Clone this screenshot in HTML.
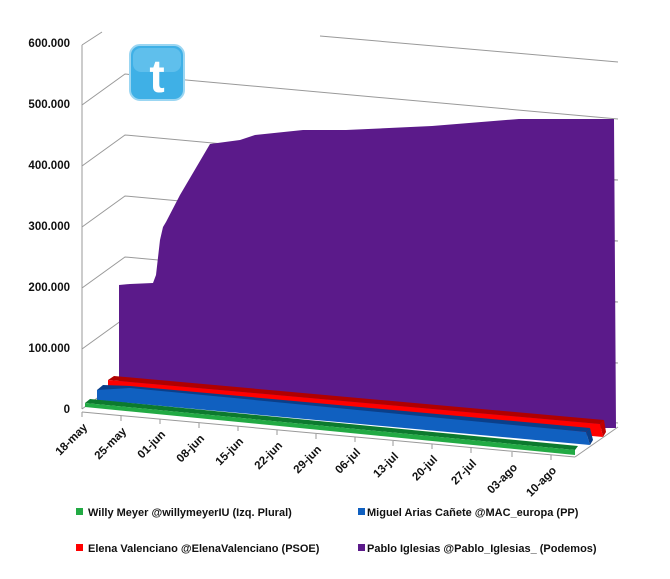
<!DOCTYPE html>
<html><head><meta charset="utf-8"><style>
body{margin:0;background:#fff;width:670px;height:574px;overflow:hidden}
svg text{font-family:"Liberation Sans",sans-serif;font-weight:bold;font-size:11.5px;fill:#111}
svg .lg{font-size:11px}
</style></head><body>
<svg width="670" height="574" viewBox="0 0 670 574" xmlns="http://www.w3.org/2000/svg">
<g stroke="#999" stroke-width="1" fill="none">
<line x1="82" y1="409" x2="82" y2="45"/>
<line x1="82" y1="45" x2="102" y2="32"/>
<line x1="320" y1="36" x2="618" y2="62"/>
<polyline points="82,105 125,74 186,80 618,119"/>
<polyline points="82,166 125,135 618,180"/>
<polyline points="82,227 125,196 618,241"/>
<polyline points="82,288 125,257 618,302"/>
<polyline points="82,349 125,318 618,363"/>
<polyline points="82,409 125,378 618,423"/>
<line x1="82" y1="412" x2="575" y2="457"/>
<line x1="575" y1="457" x2="618" y2="427"/>
<g>
<line x1="82" y1="412" x2="82" y2="417"/><line x1="121" y1="416" x2="121" y2="421"/><line x1="160" y1="419" x2="160" y2="424"/><line x1="199" y1="423" x2="199" y2="428"/><line x1="238" y1="426" x2="238" y2="431"/><line x1="277" y1="430" x2="277" y2="435"/><line x1="316" y1="434" x2="316" y2="439"/><line x1="355" y1="437" x2="355" y2="442"/><line x1="393" y1="441" x2="393" y2="446"/><line x1="432" y1="444" x2="432" y2="449"/><line x1="471" y1="448" x2="471" y2="453"/><line x1="512" y1="452" x2="512" y2="457"/><line x1="551" y1="455" x2="551" y2="460"/>
<line x1="618" y1="180" x2="614" y2="180"/><line x1="618" y1="241" x2="614" y2="241"/><line x1="618" y1="302" x2="614" y2="302"/><line x1="618" y1="363" x2="614" y2="363"/>
</g>
</g>
<polygon fill="#5b1a8a" points="119,382 119,285 130,284 153,283 156,275 160,240 163,227 166,222 180,195 210,144 240,140 255,135 303,130 346,130 432,126 519,119 614,119 616,428 560,428"/>
<polygon fill="#b00000" points="108,380 114,376 604,420 600,424"/>
<polygon fill="#ff0000" points="108,380 600,424 603,437 108,392"/>
<polygon fill="#c00000" points="600,424 604,420 606,432 603,437"/>
<polygon fill="#0a3f8a" points="97,390 103,385 130,386 590,428 586,432"/>
<polygon fill="#1060c0" points="97,390 130,388 586,432 590,445 97,400"/>
<polygon fill="#0a3f8a" points="586,432 590,428 593,440 590,445"/>
<polygon fill="#0c7a2e" points="85,403 90,399 578,446 575,450"/>
<polygon fill="#22aa44" points="85,403 575,450 575,455 85,407"/>
<g text-anchor="end">
<text x="70" y="47">600.000</text><text x="70" y="108">500.000</text><text x="70" y="169">400.000</text><text x="70" y="230">300.000</text><text x="70" y="291">200.000</text><text x="70" y="352">100.000</text><text x="70" y="413">0</text>
<g style="font-size:12px">
<text transform="translate(88,428) rotate(-45)">18-may</text>
<text transform="translate(127,432) rotate(-45)">25-may</text>
<text transform="translate(166,435) rotate(-45)">01-jun</text>
<text transform="translate(205,439) rotate(-45)">08-jun</text>
<text transform="translate(244,442) rotate(-45)">15-jun</text>
<text transform="translate(283,446) rotate(-45)">22-jun</text>
<text transform="translate(322,450) rotate(-45)">29-jun</text>
<text transform="translate(361,453) rotate(-45)">06-jul</text>
<text transform="translate(399,457) rotate(-45)">13-jul</text>
<text transform="translate(438,460) rotate(-45)">20-jul</text>
<text transform="translate(477,464) rotate(-45)">27-jul</text>
<text transform="translate(518,468) rotate(-45)">03-ago</text>
<text transform="translate(557,471) rotate(-45)">10-ago</text>
</g>
</g>
<rect x="130" y="45" width="54" height="55" rx="10" fill="#3fb0e6" stroke="#9bd6f2" stroke-width="2"/>
<rect x="133" y="48" width="48" height="24" rx="8" fill="#7fcdf2" opacity="0.5"/>
<text x="157" y="92" text-anchor="middle" style="font-size:46px;fill:#fff;font-family:'Liberation Sans',sans-serif">t</text>
<rect x="76" y="508" width="7" height="7" fill="#22aa44"/>
<text class="lg" x="88" y="516">Willy Meyer @willymeyerIU (Izq. Plural)</text>
<rect x="358" y="508" width="7" height="7" fill="#1060c0"/>
<text class="lg" x="367" y="516">Miguel Arias Cañete @MAC_europa (PP)</text>
<rect x="76" y="544" width="7" height="7" fill="#ff0000"/>
<text class="lg" x="88" y="552">Elena Valenciano @ElenaValenciano (PSOE)</text>
<rect x="358" y="544" width="7" height="7" fill="#5b1a8a"/>
<text class="lg" x="367" y="552">Pablo Iglesias @Pablo_Iglesias_ (Podemos)</text>
</svg>
</body></html>
